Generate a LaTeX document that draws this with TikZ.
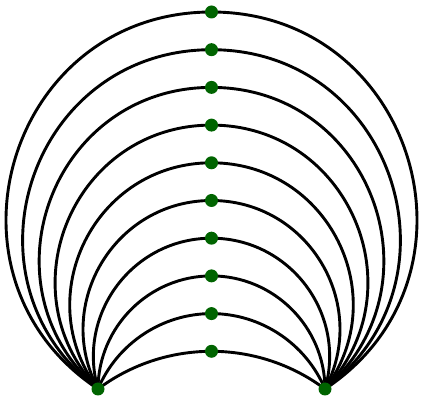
\documentclass[tikz,border=0pt]{standalone}
\definecolor{dotgreen}{RGB}{0,100,0}
\tikzset{
  dot/.style={circle, fill=dotgreen, inner sep=0pt, minimum size=13pt},
  arcline/.style={line width=2.9pt, black},
}
\begin{document}
\begin{tikzpicture}[x=1pt,y=-1pt]
\useasboundingbox (0,0) rectangle (421,403);
\coordinate (L) at (98,389);
\coordinate (R) at (325,389);
\foreach \i in {0,...,9} {
  \pgfmathsetmacro{\t}{12+37.7*\i}
  \coordinate (T\i) at (211.5,\t);
  \pgfmathsetmacro{\al}{atan((389-\t)/113.5)}
  \pgfmathsetmacro{\lo}{2/(3*(1+cos(\al))*0.3915)}
  \pgfmathsetmacro{\o}{2*\al}
  \pgfmathsetmacro{\n}{180-2*\al}
  \draw[arcline] (L) to[out=\o, in=180, looseness=\lo] (T\i)
                 to[out=0, in=\n, looseness=\lo] (R);
}
\foreach \i in {0,...,9} {
  \node[dot] (d\i) at (T\i) {};
}
\node[dot] (dL) at (L) {};
\node[dot] (dR) at (R) {};
\end{tikzpicture}
\end{document}
